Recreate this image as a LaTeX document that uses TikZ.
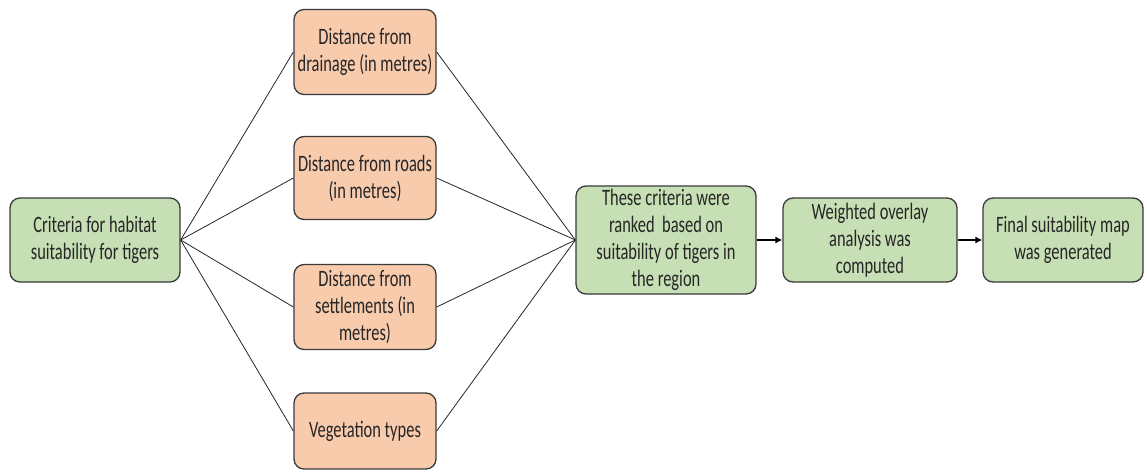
\documentclass[tikz,border=0pt]{standalone}
\usepackage{fontspec}
\setmainfont{Carlito}[FakeStretch=0.70]
\usetikzlibrary{arrows.meta}
\definecolor{gfill}{HTML}{C6DFB4}
\definecolor{ofill}{HTML}{F8CBAD}
\definecolor{bord}{HTML}{3A3A3A}
\begin{document}
\begin{tikzpicture}[x=1pt,y=-1pt,
  box/.style={draw=bord,line width=1.3pt,rounded corners=10pt,align=center,
    inner sep=0pt,font=\fontsize{23.5}{27}\selectfont,text=black!85},
  gbox/.style={box,fill=gfill},
  obox/.style={box,fill=ofill},
  link/.style={draw=black!85,line width=0.8pt},
  arr/.style={draw=black,line width=1.2pt,-{Latex[length=7pt,width=7pt]}}]
\useasboundingbox (0,0) rectangle (1147,472);
\node[gbox,minimum width=170pt,minimum height=84pt] (crit) at (95,240) {Criteria for habitat\\suitability for tigers};
\node[obox,minimum width=142pt,minimum height=85pt] (drain) at (365,52) {Distance from\\drainage (in metres)};
\node[obox,minimum width=142pt,minimum height=83pt] (roads) at (365,178) {Distance from roads\\(in metres)};
\node[obox,minimum width=142pt,minimum height=85pt] (sett) at (365,307) {Distance from\\settlements (in\\metres)};
\node[obox,minimum width=142pt,minimum height=76pt] (veg) at (365,431) {Vegetation types};
\node[gbox,minimum width=180pt,minimum height=108pt] (rank) at (666,240) {These criteria were\\ranked\ \ based on\\suitability of tigers in\\the region};
\node[gbox,minimum width=174pt,minimum height=84pt] (wo) at (870,240) {Weighted overlay\\analysis was\\computed};
\node[gbox,minimum width=160pt,minimum height=84pt] (fin) at (1063,240) {Final suitability map\\was generated};
\foreach \n in {drain,roads,sett,veg}{
  \draw[link] (crit.east) -- (\n.west);
  \draw[link] (\n.east) -- (rank.west);
}
\draw[arr] (rank.east) -- (wo.west);
\draw[arr] (wo.east) -- (fin.west);
\end{tikzpicture}
\end{document}
